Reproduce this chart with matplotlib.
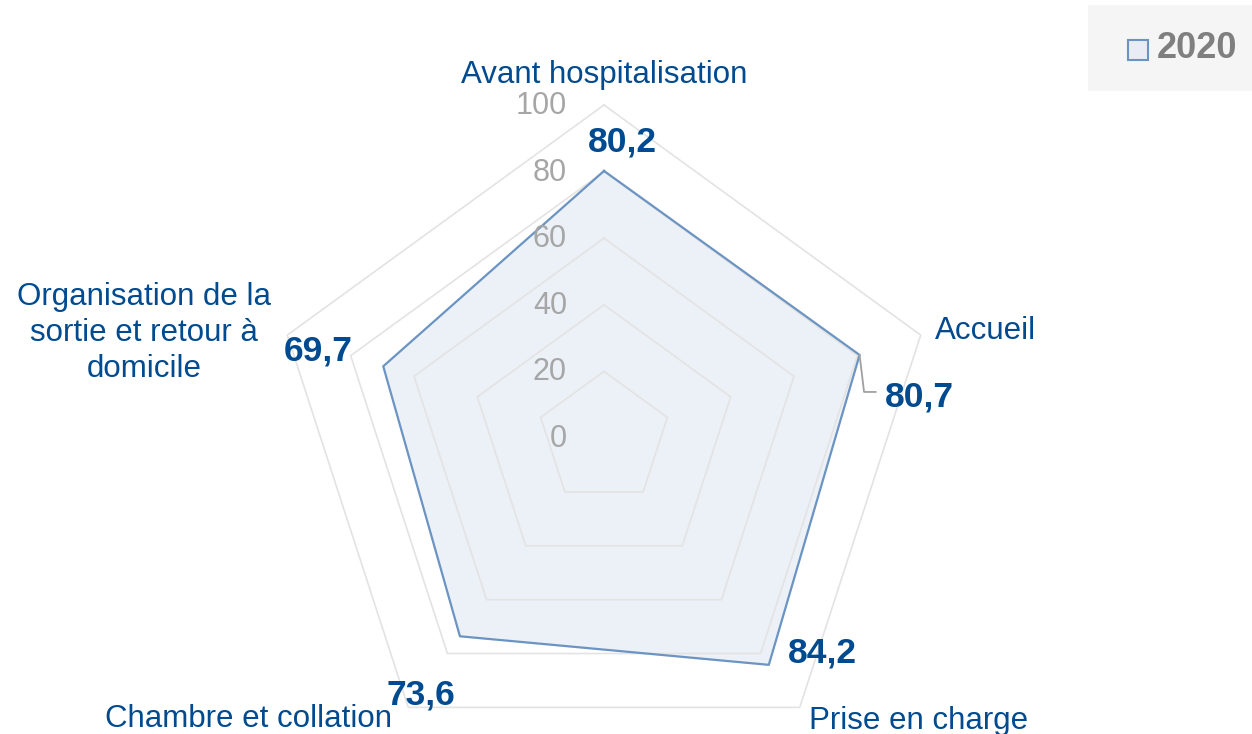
import numpy as np
import matplotlib
matplotlib.use("Agg")
import matplotlib.pyplot as plt
from matplotlib.lines import Line2D
from matplotlib.patches import Rectangle

plt.rcParams['font.family'] = ['Liberation Sans', 'DejaVu Sans']

# ---- data ----
categories = ["Avant hospitalisation", "Accueil", "Prise en charge",
              "Chambre et collation",
              "Organisation de la\nsortie et retour à\ndomicile"]
values_2020 = [80.2, 80.7, 84.2, 73.6, 69.7]
value_labels = ["80,2", "80,7", "84,2", "73,6", "69,7"]
ring_levels = [20, 40, 60, 80, 100]
tick_values = [0, 20, 40, 60, 80, 100]
series_name = "2020"

# ---- style ----
BLUE_TXT = "#004a8f"
LINE = "#6c94c2"
FILL = "#ecf1f8"
GRID = "#e3e3e3"
TICK = "#a6a6a6"

W, H, DPI = 1252, 734, 100
fig = plt.figure(figsize=(W / DPI, H / DPI), dpi=DPI)
fig.patch.set_facecolor("white")

cx, cy, R = 604, 438, 333  # pixel centre and radius for 100
ax = fig.add_axes([(cx - R) / W, (H - cy - R) / H, 2 * R / W, 2 * R / H],
                  projection="polar")
ax.set_theta_offset(np.pi / 2)
ax.set_theta_direction(-1)
ax.set_ylim(0, 100)
ax.axis("off")

n = len(categories)
theta = np.arange(n) * 2 * np.pi / n
theta_closed = np.concatenate([theta, theta[:1]])

# series fill
vals_closed = values_2020 + values_2020[:1]
ax.fill(theta_closed, vals_closed, color=FILL, zorder=1, clip_on=False)

# grid rings (pentagons) drawn over the fill
for lev in ring_levels:
    ax.plot(theta_closed, [lev] * (n + 1), color=GRID, lw=1.2,
            clip_on=False, zorder=2)

# series outline
ax.plot(theta_closed, vals_closed, color=LINE, lw=1.6, zorder=3,
        clip_on=False)

# radial tick labels
for t in tick_values:
    ax.annotate(str(t), xy=(0, t), xytext=(-37, -1), textcoords="offset pixels",
                ha="right", va="center", fontsize=22, color=TICK, zorder=4)

# category labels (offsets in pixels relative to outer vertex)
cat_offsets = [(0, 22), (14, -4), (9, -22), (-16, -20), (-143, 2)]
cat_align = [("center", "baseline"), ("left", "baseline"),
             ("left", "baseline"), ("right", "baseline"),
             ("center", "center")]
for i, lab in enumerate(categories):
    ha, va = cat_align[i]
    ax.annotate(lab, xy=(theta[i], 100), xytext=cat_offsets[i],
                textcoords="offset pixels", ha=ha, va=va,
                multialignment="center", fontsize=22.5, color=BLUE_TXT,
                linespacing=1.25, annotation_clip=False)

# value labels (offsets relative to data point)
val_offsets = [(18, 19), (25, -52), (19, 2), (-5, -68), (-31, 6)]
val_align = ["center", "left", "left", "right", "right"]
for i, lab in enumerate(value_labels):
    ax.annotate(lab, xy=(theta[i], values_2020[i]), xytext=val_offsets[i],
                textcoords="offset pixels", ha=val_align[i], va="baseline",
                fontsize=25.5, fontweight="bold", color=BLUE_TXT,
                annotation_clip=False, zorder=5)

# leader line for the second label
fig.canvas.draw()
p = ax.transData.transform((theta[1], values_2020[1]))
fig.add_artist(Line2D([p[0], p[0] + 4.5, p[0] + 16],
                      [p[1], p[1] - 37, p[1] - 37],
                      transform=None, color="#a0a0a0", lw=1.3))

# legend box
fig.add_artist(Rectangle((1088 / W, (H - 91) / H), (W - 1088) / W, 86 / H,
                         transform=fig.transFigure, facecolor="#f5f5f5",
                         edgecolor="none"))
fig.add_artist(Rectangle((1128 / W, (H - 60) / H), 20 / W, 20 / H,
                         transform=fig.transFigure, facecolor="#e8edf5",
                         edgecolor=LINE, lw=1.5))
fig.text(1157 / W, (H - 49) / H, series_name, ha="left", va="center",
         fontsize=26, fontweight="bold", color="#7f7f7f")

fig.savefig("out.png", dpi=DPI, facecolor="white")
